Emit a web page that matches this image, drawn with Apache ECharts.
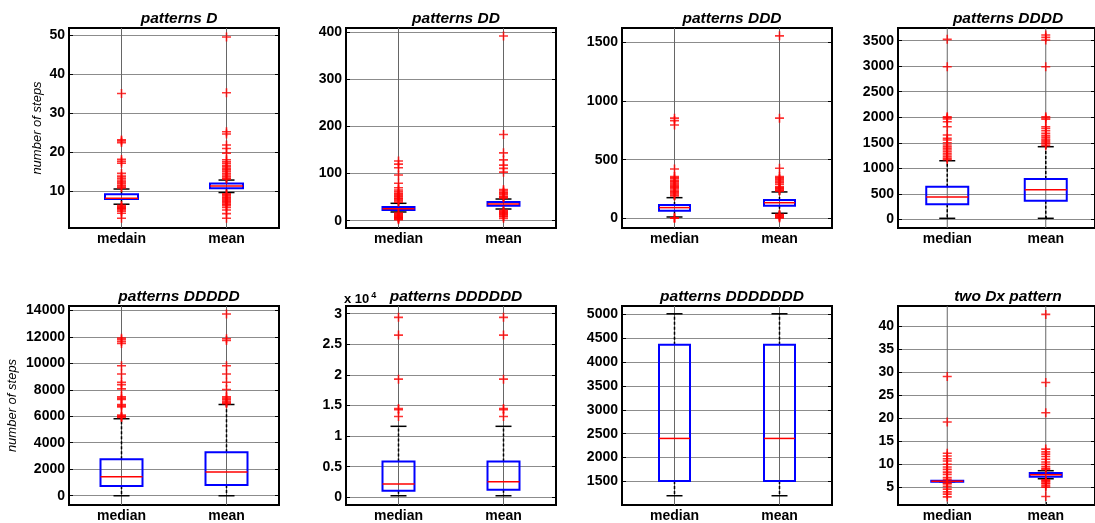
<!DOCTYPE html>
<html>
<head>
<meta charset="utf-8">
<script src="https://cdn.jsdelivr.net/npm/echarts@6/dist/echarts.min.js"></script>
<style>
  html, body { margin: 0; padding: 0; background: #fff; }
  #chart { width: 1095px; height: 523px; }
</style>
</head>
<body>
<div id="chart"></div>
<script>
// panel titles and group names
const titles = ['patterns D', 'patterns DD', 'patterns DDD', 'patterns DDDD',
  'patterns DDDDD', 'patterns DDDDDD', 'patterns DDDDDDD', 'two Dx pattern'];
const groupsFirst = ['medain', 'mean'];
const groups = ['median', 'mean'];

// y ranges and tick values
const yMin = [0.5, -15.5, -83, -170, -700, -0.125, 1006, 1.04];
const yMax = [51.8, 409, 1625, 3749, 14323, 3.125, 5173, 44.33];
const yTicks = [
  [10, 20, 30, 40, 50],
  [0, 100, 200, 300, 400],
  [0, 500, 1000, 1500],
  [0, 500, 1000, 1500, 2000, 2500, 3000, 3500],
  [0, 2000, 4000, 6000, 8000, 10000, 12000, 14000],
  [0, 0.5, 1, 1.5, 2, 2.5, 3],
  [1500, 2000, 2500, 3000, 3500, 4000, 4500, 5000],
  [5, 10, 15, 20, 25, 30, 35, 40]
];

// box stats: [lower whisker, q1, median, q3, upper whisker] for median / mean
const statsD = [[6.6, 7.95, 8.15, 9.15, 10.5], [9.6, 10.7, 11.3, 11.9, 12.8]];
const statsDD = [[18.5, 22.7, 25.5, 29.1, 36.9], [24.8, 31.8, 35.5, 39.7, 46]];
const statsDDD = [[11, 65, 91, 114, 176], [43, 108, 133, 156, 225]];
const statsDDDD = [[20, 294, 437, 639, 1148], [20, 364, 580, 790, 1423]];
const statsD5 = [[0, 729, 1427, 2757, 5813], [0, 804, 1800, 3282, 6887]];
const statsD6 = [[0.026, 0.107, 0.216, 0.585, 1.16], [0.026, 0.124, 0.254, 0.585, 1.16]];
const statsD7 = [[1200, 1510, 2400, 4360, 5010], [1200, 1510, 2400, 4360, 5010]];
const statsTwoDx = [[6.1, 6.1, 6.2, 6.3, 6.3], [6.75, 7.2, 7.6, 8.0, 8.5]];

// outliers for median / mean
const outD = [
  [35, 23.1, 22.8, 22.4, 18.1, 17.6, 17.1, 14.5, 13.8, 13.3, 12.8, 12.4, 12, 11.5, 11.1, 10.8,
    6.3, 6.0, 5.8, 5.6, 5.4, 5.1, 4.8, 4.3, 3.0],
  [49.5, 35.2, 25.2, 24.6, 21.8, 20.9, 19.7, 18, 17.5, 17.1, 16.6, 16.2, 15.8, 15.4, 15, 14.5,
    14.1, 13.7, 13.3, 13, 9.3, 9, 8.7, 8.4, 8.1, 7.8, 7.5, 7.2, 6.9, 6.6, 6.3, 5.8, 5.1, 4.2, 3.0]
];
const outDD = [
  [126.8, 120, 112.5, 97, 79.4, 70, 65, 61.6, 58, 56, 53, 51, 48, 46, 44, 41.8, 39,
    16, 14, 12, 10.5, 9, 7.5, 6, 5, 3.5, 2],
  [392, 183, 144, 129, 118, 111, 103, 66, 63, 60, 58, 55, 52, 50, 48,
    22, 20, 18, 16, 14, 12, 10, 8.5, 5]
];
const outDDD = [
  [855, 834, 797, 421, 356, 345, 336, 320, 313, 300, 285, 275, 265, 255, 242, 230, 222, 210, 199, 190,
    5, 2, 0],
  [1558, 855, 427, 356, 345, 336, 327, 315, 304, 290, 270, 262, 256, 248, 240, 232,
    35, 28, 22, 14, 8, 3]
];
const outDDDD = [
  [3527, 2991, 2011, 1990, 1966, 1913, 1815, 1652, 1587, 1554, 1500, 1456, 1423, 1391, 1358,
    1325, 1290, 1260, 1227, 1195, 1170],
  [3612, 3566, 3514, 2991, 2011, 1985, 1960, 1815, 1780, 1736, 1685, 1640, 1607, 1574, 1550,
    1521, 1495, 1476, 1443]
];
const outD5 = [
  [11897, 11770, 11642, 11500, 9817, 9193, 8563, 8390, 8067, 7466, 7350, 7263, 6887, 6800, 6711,
    6084, 6000, 5963, 5900],
  [13722, 11845, 11717, 9817, 9193, 8563, 8014, 7466, 7350, 7250, 7135, 7015, 6950]
];
const outD6 = [
  [2.94, 2.65, 1.93, 1.45, 1.43, 1.32],
  [2.94, 2.65, 1.93, 1.45, 1.43, 1.32]
];
const outD7 = [[], []];
const outTwoDx = [
  [29, 19.1, 12.3, 11.7, 11.1, 10.6, 9.9, 9.3, 8.8, 8.2, 7.7, 7.0, 6.6,
    5.8, 5.6, 5.1, 4.5, 3.9, 3.4, 2.8],
  [42.5, 27.7, 21.1, 13.2, 12.6, 12.1, 11.6, 11.0, 10.4, 9.9, 9.4, 9.0, 8.8,
    6.5, 6.3, 6.1, 5.8, 5.6, 5.2, 4.9, 2.9]
];

const allStats = [statsD, statsDD, statsDDD, statsDDDD, statsD5, statsD6, statsD7, statsTwoDx];
const allOutliers = [outD, outDD, outDDD, outDDDD, outD5, outD6, outD7, outTwoDx];

// layout
const FONT = '"Liberation Sans", Arial, sans-serif';
const colLeft = [69, 346, 622, 898];
const rowTop = [28, 306];
const gridW = 210, gridH = 200;
const boxWidths = [33, 32, 31, 42, 42, 32, 31, 32];
const plusPath = 'path://M3.7,0H5.3V3.7H9V5.3H5.3V9H3.7V5.3H0V3.7H3.7Z';

function boxRenderer(boxW) {
  return function (params, api) {
    const c = api.value(0);
    const lo = api.coord([c, api.value(1)]);
    const q1 = api.coord([c, api.value(2)]);
    const md = api.coord([c, api.value(3)]);
    const q3 = api.coord([c, api.value(4)]);
    const hi = api.coord([c, api.value(5)]);
    const cs = params.coordSys;
    const x = md[0];
    const half = boxW / 2;
    const cap = 8;
    const dash = {stroke: '#000', lineWidth: 1.5, lineDash: [3, 2]};
    const solid = {stroke: '#000', lineWidth: 1.5};
    return {
      type: 'group',
      children: [
        // vertical grid line through the group
        {type: 'line', shape: {x1: x, y1: cs.y, x2: x, y2: cs.y + cs.height},
          style: {stroke: '#666', lineWidth: 1}},
        {type: 'line', shape: {x1: x, y1: q3[1], x2: x, y2: hi[1]}, style: dash},
        {type: 'line', shape: {x1: x, y1: q1[1], x2: x, y2: lo[1]}, style: dash},
        {type: 'line', shape: {x1: x - cap, y1: hi[1], x2: x + cap, y2: hi[1]}, style: solid},
        {type: 'line', shape: {x1: x - cap, y1: lo[1], x2: x + cap, y2: lo[1]}, style: solid},
        {type: 'rect', shape: {x: x - half, y: q3[1], width: boxW, height: Math.max(q1[1] - q3[1], 1)},
          style: {fill: 'none', stroke: '#0000ff', lineWidth: 2}},
        {type: 'line', shape: {x1: x - half, y1: md[1], x2: x + half, y2: md[1]},
          style: {stroke: '#ff0000', lineWidth: 1.5}}
      ]
    };
  };
}

const grid = [], xAxis = [], yAxis = [], series = [], title = [];

titles.forEach(function (t, i) {
  const left = colLeft[i % 4];
  const top = rowTop[Math.floor(i / 4)];
  grid.push({left: left, top: top, width: gridW, height: gridH, show: true,
    borderColor: '#000', borderWidth: 2, backgroundColor: 'transparent'});

  title.push({text: t, left: left + gridW / 2, top: top - 22, textAlign: 'center',
    textStyle: {fontFamily: FONT, fontSize: 15.5, fontWeight: 'bold', fontStyle: 'italic', color: '#000'}});

  xAxis.push({
    type: 'category', gridIndex: i, data: i === 0 ? groupsFirst : groups,
    axisLine: {show: false},
    axisTick: {show: true, inside: true, alignWithLabel: true, length: 3, lineStyle: {color: '#000'}},
    axisLabel: {fontFamily: FONT, fontSize: 14, fontWeight: 'bold', color: '#000', margin: 4},
    splitLine: {show: false}
  });

  const yBase = {
    type: 'value', gridIndex: i, min: yMin[i], max: yMax[i],
    axisLine: {show: false},
    axisTick: {show: true, inside: true, length: 4, customValues: yTicks[i], lineStyle: {color: '#000'}}
  };
  const yLeft = Object.assign({}, yBase, {
    position: 'left',
    axisLabel: {fontFamily: FONT, fontSize: 14, fontWeight: 'bold', color: '#000', margin: 4,
      customValues: yTicks[i], formatter: function (v) { return String(v); }},
    splitLine: {show: true, lineStyle: {color: '#8c8c8c', width: 1}}
  });
  if (i === 0 || i === 4) {
    yLeft.name = 'number of steps';
    yLeft.nameLocation = 'middle';
    yLeft.nameGap = i === 0 ? 25 : 50;
    yLeft.nameTextStyle = {fontFamily: FONT, fontSize: 13, fontStyle: 'italic', color: '#000'};
  }
  if (i === 5) {
    yLeft.name = '{a|x 10}{b|4}';
    yLeft.nameLocation = 'end';
    yLeft.nameGap = -2;
    yLeft.nameTextStyle = {align: 'left', padding: [0, 0, 0, -2], rich: {
      a: {fontFamily: FONT, fontSize: 13, fontWeight: 'bold', color: '#000'},
      b: {fontFamily: FONT, fontSize: 9, fontWeight: 'bold', color: '#000', padding: [0, 0, 8, 2]}
    }};
  }
  yAxis.push(yLeft);
  yAxis.push(Object.assign({}, yBase, {position: 'right', axisLabel: {show: false}, splitLine: {show: false}}));

  series.push({
    type: 'custom', xAxisIndex: i, yAxisIndex: 2 * i,
    renderItem: boxRenderer(boxWidths[i]),
    encode: {x: 0, y: [1, 2, 3, 4, 5]},
    data: allStats[i].map(function (s, c) { return [c].concat(s); }),
    silent: true
  });

  const pts = [];
  allOutliers[i].forEach(function (vals, c) {
    vals.forEach(function (v) { pts.push([c, v]); });
  });
  series.push({
    type: 'scatter', xAxisIndex: i, yAxisIndex: 2 * i,
    symbol: plusPath, symbolSize: 9,
    itemStyle: {color: '#ff0000'},
    data: pts, silent: true
  });
});

const chart = echarts.init(document.getElementById('chart'));
chart.setOption({
  animation: false,
  backgroundColor: '#fff',
  title: title,
  grid: grid,
  xAxis: xAxis,
  yAxis: yAxis,
  series: series
});
</script>
</body>
</html>
